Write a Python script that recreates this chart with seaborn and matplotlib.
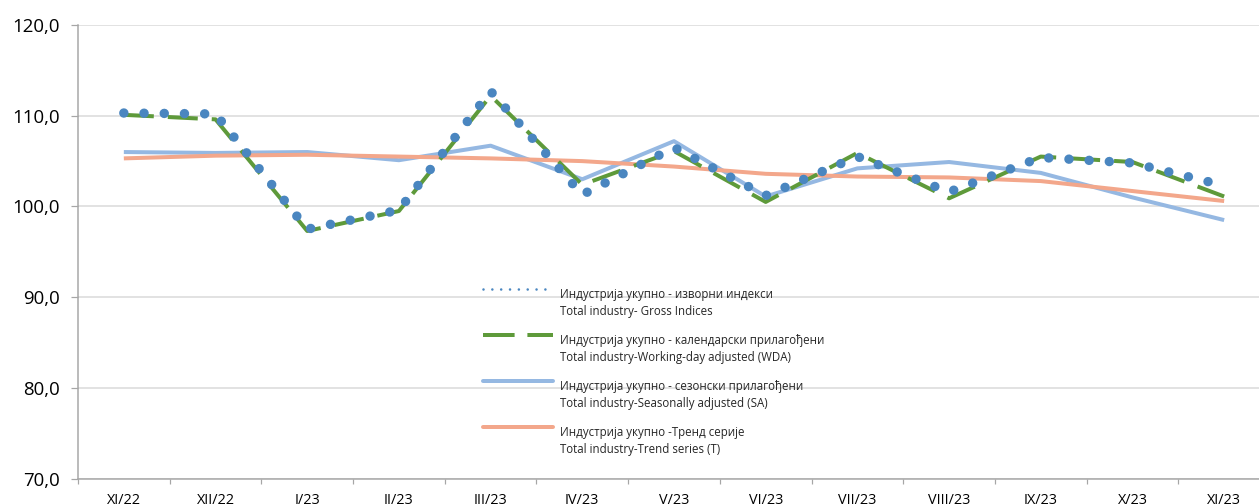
import numpy as np
import pandas as pd
import matplotlib
matplotlib.use("Agg")
import matplotlib.pyplot as plt
from matplotlib.lines import Line2D
from matplotlib.legend_handler import HandlerLine2D
from matplotlib.ticker import FixedLocator
import seaborn as sns

# ---------------- data ----------------
months = ["XI/22", "XII/22", "I/23", "II/23", "III/23", "IV/23", "V/23",
          "VI/23", "VII/23", "VIII/23", "IX/23", "X/23", "XI/23"]
gross = [110.3, 110.2, 97.5, 99.6, 112.7, 101.3, 106.5, 101.2, 105.5, 101.6, 105.4, 104.8, 102.3]
wda = [110.1, 109.6, 97.3, 99.5, 112.2, 102.4, 106.1, 100.5, 105.9, 100.9, 105.5, 104.9, 101.1]
sa = [106.0, 105.9, 106.0, 105.1, 106.7, 103.0, 107.2, 101.1, 104.2, 104.9, 103.7, 101.0, 98.5]
trend = [105.3, 105.6, 105.7, 105.5, 105.3, 105.0, 104.4, 103.6, 103.3, 103.2, 102.8, 101.7, 100.6]

labels = [
    "Индустрија укупно - изворни индекси\nTotal industry- Gross Indices",
    "Индустрија укупно - календарски прилагођени\nTotal industry-Working-day adjusted (WDA)",
    "Индустрија укупно - сезонски прилагођени\nTotal industry-Seasonally adjusted (SA)",
    "Индустрија укупно -Тренд серије\nTotal industry-Trend series (T)",
]
yticks = [70, 80, 90, 100, 110, 120]

c_gross = "#4A86C0"
c_wda = "#5E9A3A"
c_sa = "#95B8E2"
c_trend = "#F3A78B"

# ---------------- style ----------------
sns.set_style("white")
plt.rcParams["font.family"] = ["Open Sans", "DejaVu Sans"]

W, H = 1259, 504
fig = plt.figure(figsize=(W / 100, H / 100), dpi=100)
ax = fig.add_axes([78 / W, (H - 478.7) / H, 1192 / W, (478.7 - 25) / H])

px = 0.72  # points per pixel at dpi 100

sns.lineplot(x=months, y=sa, ax=ax, color=c_sa, linewidth=4 * px,
             solid_capstyle="butt", zorder=3)
sns.lineplot(x=months, y=trend, ax=ax, color=c_trend, linewidth=4 * px,
             solid_capstyle="butt", zorder=3)
sns.lineplot(x=months, y=wda, ax=ax, color=c_wda, linewidth=4 * px,
             linestyle=(0, (7.5, 3.5)), dash_capstyle="butt", zorder=4)
sns.lineplot(x=months, y=gross, ax=ax, color=c_gross, linewidth=9.5 * px,
             linestyle=(0, (0.001, 2.126)), dash_capstyle="round", zorder=5)

ax.set_xlim(-0.5, len(months) - 0.5)
ax.set_ylim(70, 120)
ax.set_yticks(yticks)
ax.set_yticklabels([f"{v:.1f}".replace(".", ",") for v in yticks])
ax.set_xticks(range(len(months)))
ax.set_xticklabels(months)
ax.xaxis.set_minor_locator(FixedLocator(np.arange(-0.5, len(months), 1.0)))
ax.set_xlabel("")
ax.set_ylabel("")

ax.grid(axis="y", color="#D9D9D9", linewidth=1.5 * px, zorder=0)
ax.set_axisbelow(True)
for s in ["top", "right"]:
    ax.spines[s].set_visible(False)
for s in ["left", "bottom"]:
    ax.spines[s].set_color("#A6A6A6")
    ax.spines[s].set_linewidth(1.5 * px)

ax.tick_params(axis="y", which="major", length=7 * px, width=1.2 * px, color="#A6A6A6",
               labelsize=13.4, pad=11 * px, labelcolor="#000000", left=True)
ax.tick_params(axis="x", which="major", length=0, labelsize=10.4, pad=14 * px,
               labelcolor="#000000", bottom=True)
ax.tick_params(axis="x", which="minor", length=5 * px, width=1.2 * px, color="#A6A6A6",
               bottom=True)

# ---------------- legend ----------------
class FirstLineHandler(HandlerLine2D):
    def __init__(self, shift, **kw):
        super().__init__(**kw)
        self.shift = shift

    def create_artists(self, legend, orig_handle, xdescent, ydescent, width,
                       height, fontsize, trans):
        arts = super().create_artists(legend, orig_handle, xdescent, ydescent,
                                      width, height, fontsize, trans)
        for a in arts:
            a.set_ydata(np.asarray(a.get_ydata(), dtype=float) + self.shift)
        return arts

leg_fs = 8.3
shift = 14.5 * px
handles = [
    Line2D([], [], color=c_gross, linewidth=2.6 * px, linestyle=(0, (0.001, 3.4)),
           dash_capstyle="round"),
    Line2D([], [], color=c_wda, linewidth=4 * px, linestyle=(0, (7.9, 3.2)),
           dash_capstyle="butt"),
    Line2D([], [], color=c_sa, linewidth=4 * px, solid_capstyle="round"),
    Line2D([], [], color=c_trend, linewidth=4 * px, solid_capstyle="round"),
]
leg = ax.legend(handles, labels, loc="upper left",
                bbox_to_anchor=(483 / W, 1 - 288 / H), bbox_transform=fig.transFigure,
                frameon=False, fontsize=leg_fs, handlelength=70 * px / leg_fs,
                handletextpad=7 * px / leg_fs, labelspacing=1.38, borderpad=0,
                borderaxespad=0,
                handler_map={h: FirstLineHandler(shift) for h in handles})
for t in leg.get_texts():
    t.set_linespacing(1.4)

fig.savefig("out.png", dpi=100)
